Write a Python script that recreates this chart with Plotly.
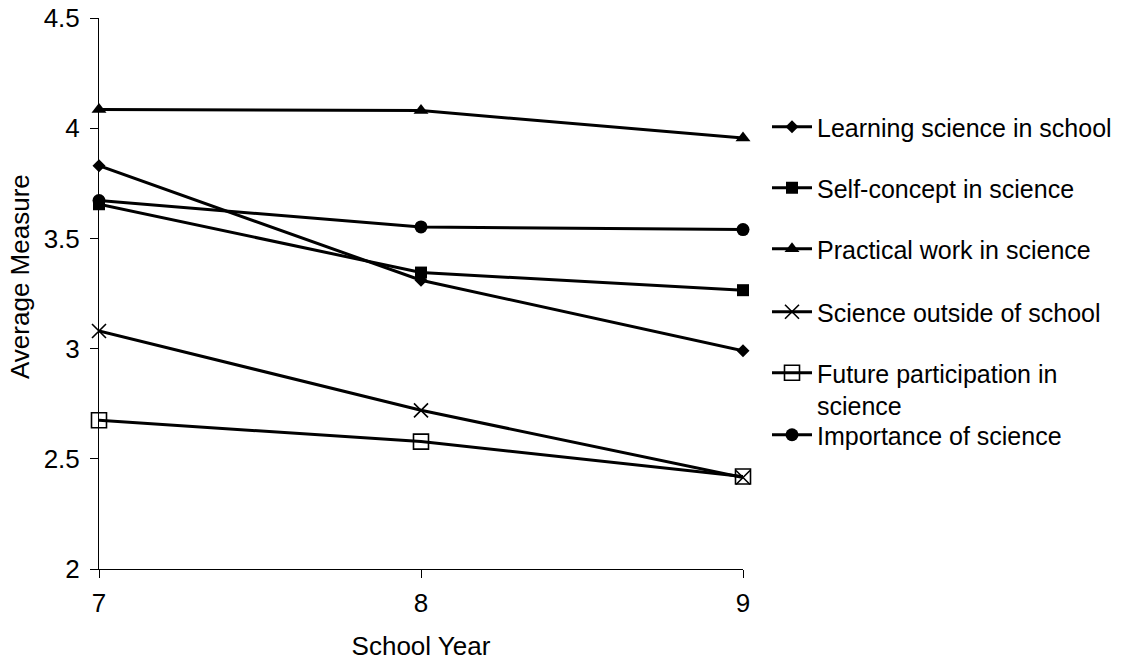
import plotly.graph_objects as go

# School years on the x axis
years = [7, 8, 9]

# Average attitude measures per scale
learning_in_school = [3.83, 3.31, 2.99]
self_concept = [3.655, 3.345, 3.265]
practical_work = [4.085, 4.08, 3.955]
outside_school = [3.08, 2.72, 2.415]
future_participation = [2.675, 2.578, 2.42]
importance = [3.672, 3.552, 3.54]

series_names = [
    "Learning science in school",
    "Self-concept in science",
    "Practical work in science",
    "Science outside of school",
    "Future participation in<br>science",
    "Importance of science",
]
series_values = [learning_in_school, self_concept, practical_work,
                 outside_school, future_participation, importance]

FONT = "Liberation Sans, Arial, sans-serif"
FS_AXIS = 26
FS_LEGEND = 25

marker_styles = [
    dict(symbol="diamond", size=10, color="black"),
    dict(symbol="square", size=12, color="black"),
    dict(symbol="triangle-up", size=13, color="black"),
    dict(symbol="x-thin-open", size=14, color="black", line=dict(width=1.6, color="black")),
    dict(symbol="square-open", size=15, color="black", line=dict(width=1.6, color="black")),
    dict(symbol="circle", size=13, color="black"),
]

legend_ids = ["legend", "legend2", "legend3", "legend4", "legend5", "legend6"]

fig = go.Figure()
for name, vals, mk, lg in zip(series_names, series_values, marker_styles, legend_ids):
    fig.add_trace(go.Scatter(
        x=years, y=vals, name=name, mode="lines+markers",
        line=dict(color="black", width=3),
        marker=mk, cliponaxis=False, legend=lg,
    ))

# Plot area spans y pixels 18..569 (height 551); each legend is placed by pixel centre
PLOT_TOP, PLOT_H = 18, 551
legend_centres = [127, 188, 249, 312, 389, 435]
legend_x = 1.0 + (767 - 743) / 644

layout_legends = {}
for lg, cy in zip(legend_ids, legend_centres):
    layout_legends[lg] = dict(
        x=legend_x, xanchor="left",
        y=(PLOT_TOP + PLOT_H - cy) / PLOT_H, yanchor="middle",
        font=dict(family=FONT, size=FS_LEGEND, color="black"),
        bgcolor="rgba(0,0,0,0)", itemwidth=40, valign="top",
        tracegroupgap=0,
    )

fig.update_layout(
    width=1123, height=664,
    margin=dict(l=99, r=380, t=18, b=95, autoexpand=False),
    paper_bgcolor="white", plot_bgcolor="white",
    font=dict(family=FONT, size=FS_AXIS, color="black"),
    showlegend=True,
    **layout_legends,
    xaxis=dict(
        range=[7, 9], tickvals=years, ticktext=[str(y) for y in years],
        showgrid=False, zeroline=False, showline=True, linecolor="black", linewidth=1,
        ticks="outside", ticklen=8, tickcolor="black", tickwidth=1,
        ticklabelstandoff=3, automargin=False,
        title=dict(text="School Year", font=dict(family=FONT, size=FS_AXIS), standoff=19),
    ),
    yaxis=dict(
        range=[2, 4.5], tickvals=[2, 2.5, 3, 3.5, 4, 4.5],
        ticktext=["2", "2.5", "3", "3.5", "4", "4.5"],
        showgrid=False, zeroline=False, showline=True, linecolor="black", linewidth=1,
        ticks="outside", ticklen=8, tickcolor="black", tickwidth=1,
        ticklabelstandoff=5, automargin=False,
    ),
    annotations=[dict(
        text="Average Measure", textangle=-90, xref="paper", yref="paper",
        x=(20 - 99) / 644, y=(PLOT_TOP + PLOT_H - 277) / PLOT_H,
        xanchor="center", yanchor="middle", showarrow=False,
        font=dict(family=FONT, size=FS_AXIS, color="black"),
    )],
)

fig.write_html("out.html")
